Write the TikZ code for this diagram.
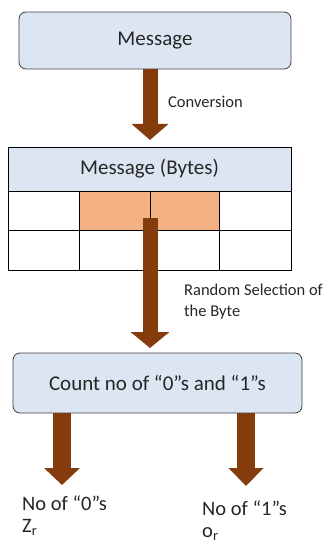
\documentclass[tikz,border=0pt]{standalone}
\usepackage{fontspec}
\setmainfont{Carlito}
\usetikzlibrary{arrows.meta}
\definecolor{boxblue}{HTML}{DCE6F2}
\definecolor{boxline}{HTML}{3F3F3F}
\definecolor{arrowbrown}{HTML}{843C0C}
\definecolor{cellorange}{HTML}{F4B183}
\definecolor{txt}{HTML}{262626}
\tikzset{
  rbox/.style={draw=boxline, line width=0.8pt, fill=boxblue, rounded corners=7pt, inner sep=0pt, text=txt, font=\fontsize{21}{24}\selectfont},
  cell/.style={draw=black, line width=0.8pt, inner sep=0pt},
  blockarrow/.style={draw=arrowbrown, line width=#1},
  lbl/.style={text=txt, inner sep=0pt, font=\fontsize{16.5}{21}\selectfont, align=left},
  biglbl/.style={text=txt, inner sep=0pt, font=\fontsize{20.5}{22}\selectfont, anchor=west, align=left},
}
\begin{document}
\begin{tikzpicture}[x=1pt,y=-1pt]
\useasboundingbox (0,0) rectangle (327,545);
% Message box
\node[rbox, minimum width=272pt, minimum height=57pt] (msg) at (155,40.5) {Message};
% table
\node[cell, fill=boxblue, minimum width=283pt, minimum height=44pt, text=txt, font=\fontsize{21}{24}\selectfont] (hdr) at (149.5,169) {Message (Bytes)};
\node[cell, fill=white, minimum width=71pt, minimum height=39pt] (c11) at (43.5,210.5) {};
\node[cell, fill=cellorange, minimum width=71pt, minimum height=39pt] (c12) at (114.5,210.5) {};
\node[cell, fill=cellorange, minimum width=69pt, minimum height=39pt] (c13) at (184.5,210.5) {};
\node[cell, fill=white, minimum width=72pt, minimum height=39pt] (c14) at (255,210.5) {};
\node[cell, fill=white, minimum width=71pt, minimum height=40pt] (c21) at (43.5,250) {};
\node[cell, fill=white, minimum width=71pt, minimum height=40pt] (c22) at (114.5,250) {};
\node[cell, fill=white, minimum width=69pt, minimum height=40pt] (c23) at (184.5,250) {};
\node[cell, fill=white, minimum width=72pt, minimum height=40pt] (c24) at (255,250) {};
% count box
\node[rbox, minimum width=289pt, minimum height=60pt] (cnt) at (157.5,383) {Count no of “0”s and “1”s};
% coordinates
\coordinate (a1start) at (150,69.4);
\coordinate (a1end) at (150,140);
\coordinate (a2start) at (150,218);
\coordinate (a2end) at (150,348);
\coordinate (a3start) at (62,413.4);
\coordinate (a3end) at (62,485);
\coordinate (a4start) at (246,413.4);
\coordinate (a4end) at (246,486);
% arrows
\draw[blockarrow=15pt, -{Triangle[length=16pt,width=36pt]}] (a1start) -- (a1end);
\draw[blockarrow=15pt, -{Triangle[length=16pt,width=38pt]}] (a2start) -- (a2end);
\draw[blockarrow=18pt, -{Triangle[length=17pt,width=35pt]}] (a3start) -- (a3end);
\draw[blockarrow=18pt, -{Triangle[length=18pt,width=34pt]}] (a4start) -- (a4end);
% labels
\node[lbl, anchor=west] (conv) at (168,102) {Conversion};
\node[lbl, anchor=north west] (rsel) at (184,284) {Random Selection of\\the Byte};
\node[biglbl] (n0) at (22,516) {No of “0”s\\Z\textsubscript{r}};
\node[biglbl] (n1) at (202,521) {No of “1”s\\o\textsubscript{r}};
\end{tikzpicture}
\end{document}
